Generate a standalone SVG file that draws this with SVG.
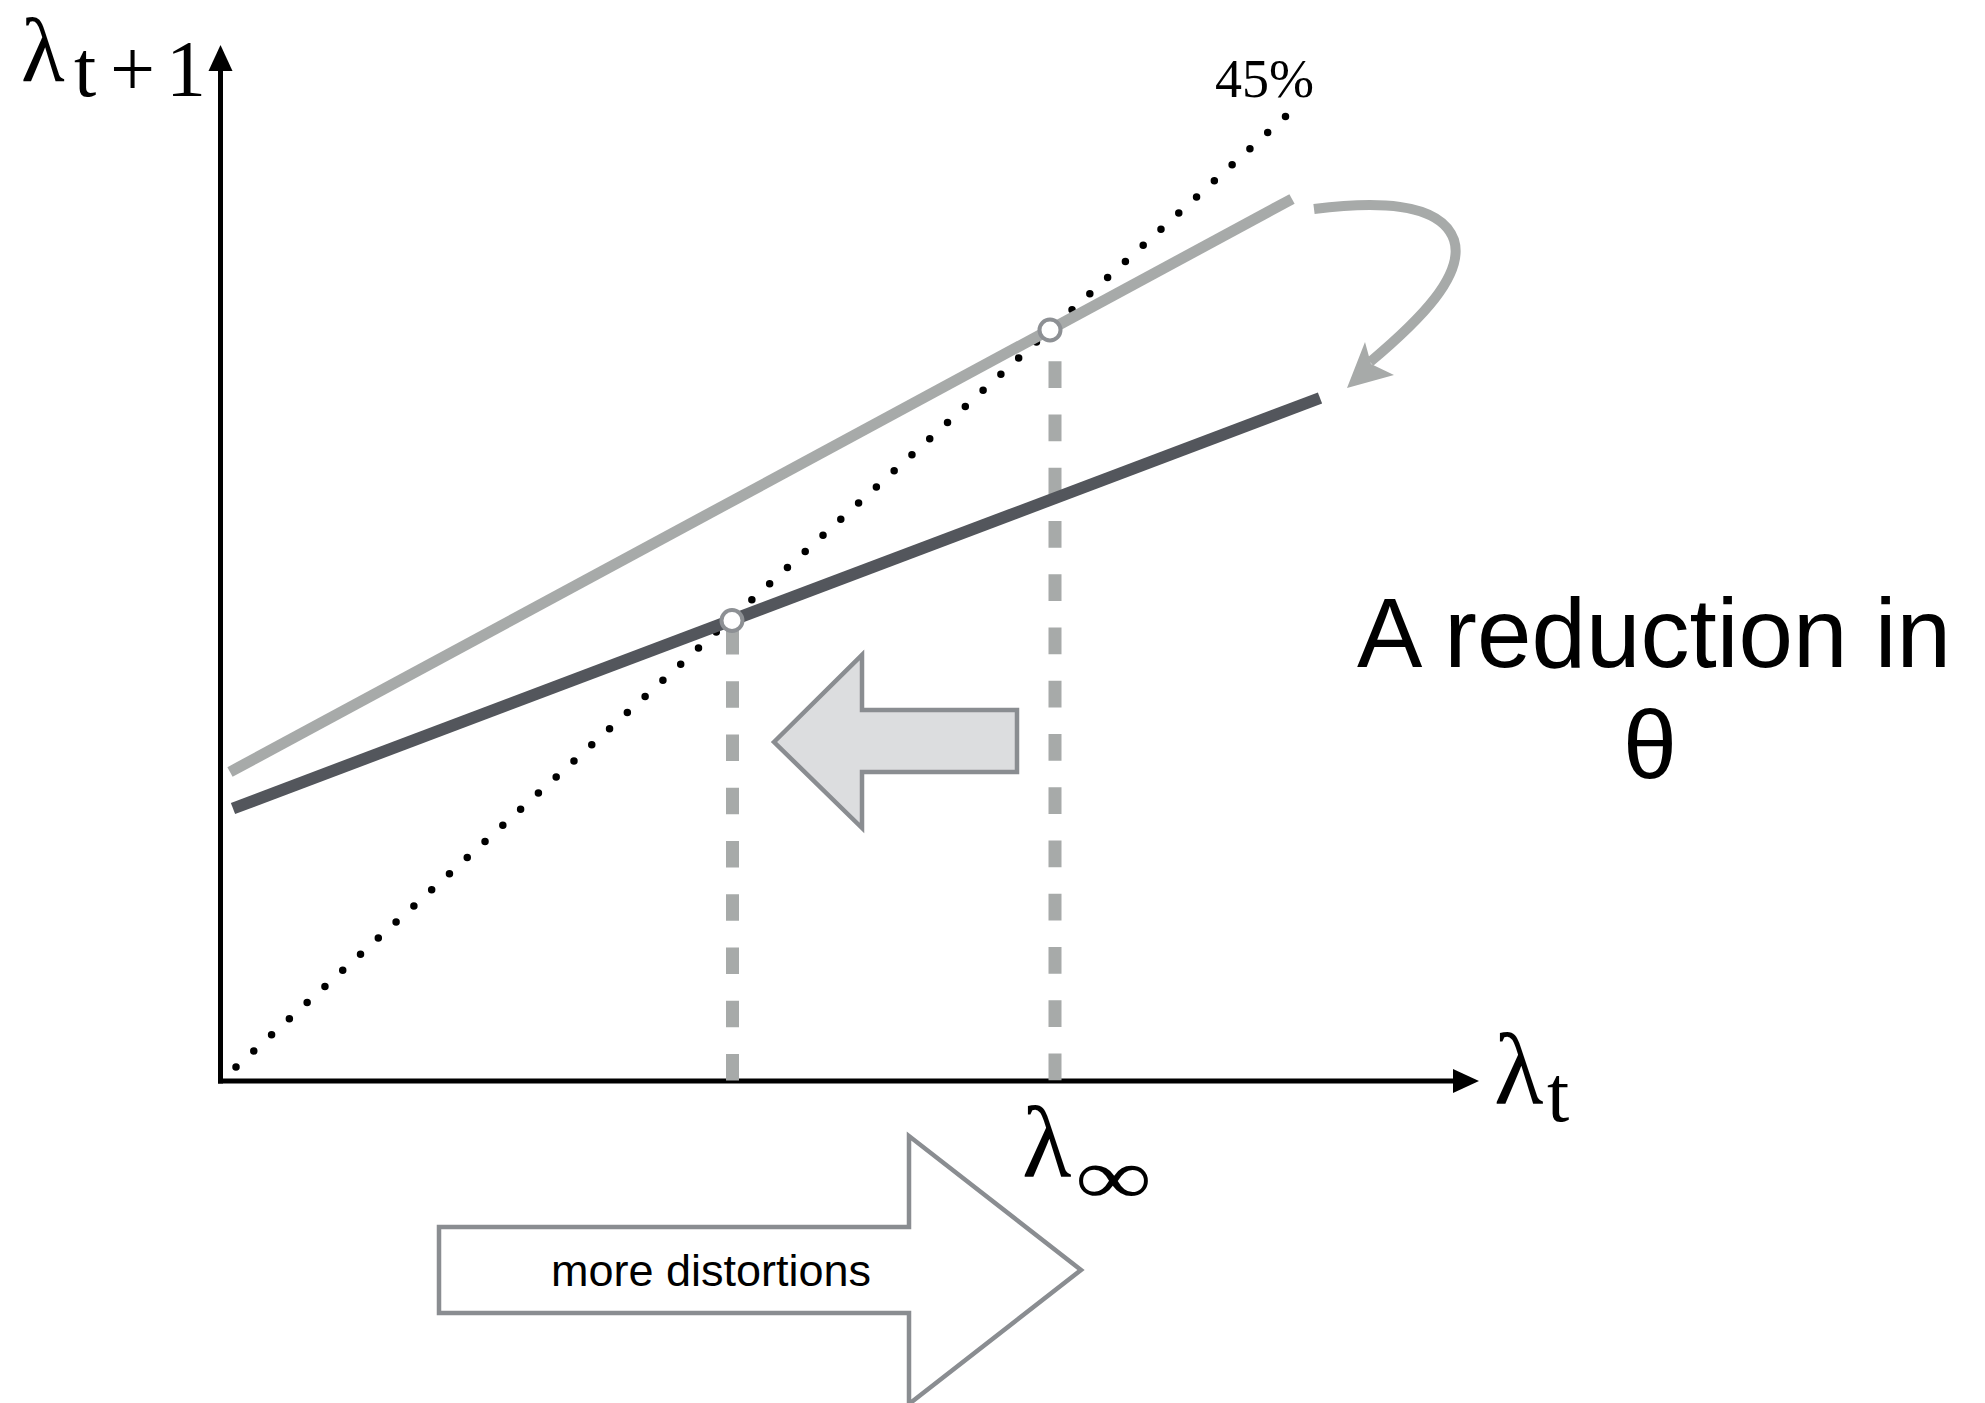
<svg xmlns="http://www.w3.org/2000/svg" width="1985" height="1403" viewBox="0 0 1985 1403">
<defs>
<style>
.serif{font-family:"Liberation Serif","Times New Roman",serif;fill:#000}
.sans{font-family:"Liberation Sans",Arial,sans-serif;fill:#000}
.axis{stroke:#000;stroke-width:5;fill:none}
.vdash{stroke:#a7aaa9;stroke-width:13;fill:none}
.pt{fill:#fff;stroke:#8d9094;stroke-width:4}
.bigarrow{stroke:#8a8d91;stroke-width:4.5;stroke-linejoin:miter}
</style>
</defs>
<rect width="1985" height="1403" fill="#fff"/>
<g id="axes">
<line class="axis" x1="220.5" y1="68" x2="220.5" y2="1083.5"/>
<polygon points="220.5,45 208.5,71 232.5,71" fill="#000"/>
<line class="axis" x1="218" y1="1081" x2="1456" y2="1081"/>
<polygon points="1479,1081 1453,1069 1453,1093" fill="#000"/>
</g>
<g id="diagonal-45">
<line x1="236" y1="1067" x2="1286.5" y2="115.5" stroke="#000" stroke-width="7.5" stroke-linecap="round" stroke-dasharray="0 24"/>
</g>
<g id="dashed-guides">
<line class="vdash" x1="732.5" y1="628" x2="732.5" y2="1081" stroke-dasharray="26.6 26.65"/>
<line class="vdash" x1="1055" y1="361.3" x2="1055" y2="1081" stroke-dasharray="26.6 26.65"/>
</g>
<g id="light-line">
<line x1="230" y1="772" x2="1292" y2="199" stroke="#a7aaa9" stroke-width="11"/>
</g>
<g id="dark-line">
<line x1="233" y1="808.5" x2="1320" y2="398" stroke="#53565c" stroke-width="12"/>
</g>
<g id="points">
<circle class="pt" cx="732" cy="620.5" r="10.5"/>
<circle class="pt" cx="1050" cy="330" r="10.5"/>
</g>
<g id="connectors">
<path d="M1314,209 C1370,202 1440,200 1454,240 C1465,275 1420,320 1370,362" fill="none" stroke="#a7aaa9" stroke-width="10"/>
<polygon points="1347,388 1365,342 1371,364 1394,375" fill="#a7aaa9"/>
</g>
<g id="shift-left-arrow">
<polygon class="bigarrow" points="774,742 862,655 862,710 1017,710 1017,772 862,772 862,828" fill="#dcdddf"/>
</g>
<g id="more-distortions-arrow">
<polygon class="bigarrow" points="439,1227 909,1227 909,1136 1081,1270 909,1404 909,1313 439,1313" fill="#fff"/>
<text class="sans" x="711" y="1286" font-size="45" text-anchor="middle">more distortions</text>
</g>
<g id="labels">
<text class="serif" x="21" y="81" font-size="90">λ</text>
<text class="serif" font-size="80" y="96"><tspan x="74">t</tspan><tspan x="110">+</tspan><tspan x="166">1</tspan></text>
<text class="serif" x="1494" y="1104" font-size="102">λ</text>
<text class="serif" x="1547" y="1121" font-size="80">t</text>
<text class="serif" x="1022" y="1177" font-size="102">λ</text>
<text class="serif" font-size="80" transform="translate(1075,1204) scale(1.35,1)">∞</text>
<text class="serif" x="1215" y="97" font-size="54">45%</text>
<text class="sans" x="1654" y="667" font-size="98" text-anchor="middle">A reduction in</text>
<text class="sans" x="1650" y="778" font-size="97" text-anchor="middle">θ</text>
</g>
</svg>
